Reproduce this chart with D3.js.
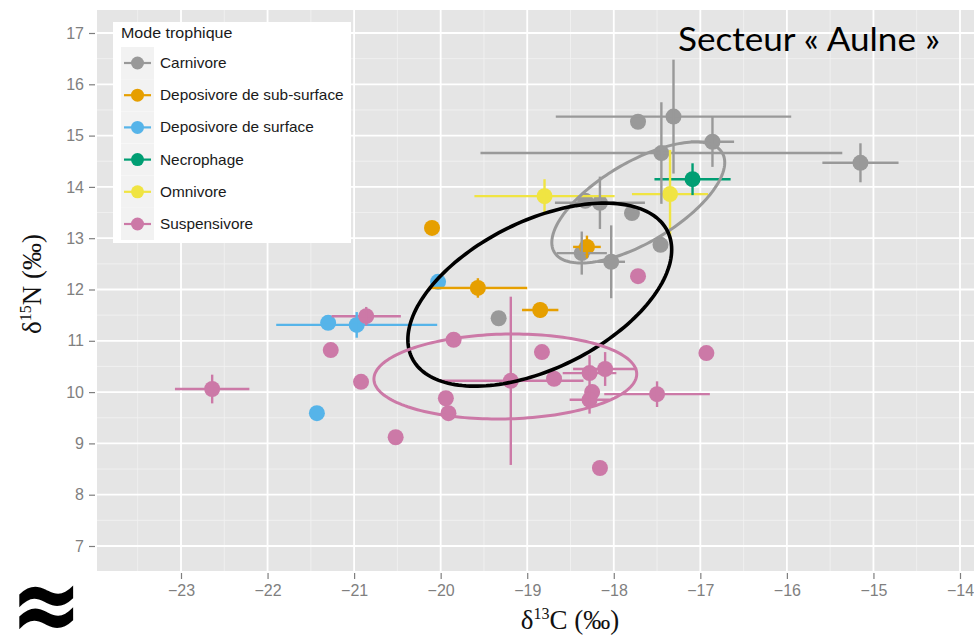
<!DOCTYPE html>
<html><head><meta charset="utf-8">
<script src="https://cdn.jsdelivr.net/npm/d3@7"></script>
<style>body{margin:0;background:#fff}svg{display:block}</style>
</head><body><svg id="c" width="974" height="635"></svg>
<script>
// ---- data ----
const groups = ["Carnivore","Deposivore de sub-surface","Deposivore de surface","Necrophage","Omnivore","Suspensivore"];
const groupColors = ["#999999","#E69F00","#56B4E9","#009E73","#F0E442","#CC79A7"];

// points: group index, δ13C, δ15N, error on δ13C, error on δ15N
const pointGroup = [0,0,0,0,0,0,0,0,0,0,0,0,
                    1,1,1,1,
                    2,2,2,2,
                    3,
                    4,4,
                    5,5,5,5,5,5,5,5,5,5,5,5,5,5,5,5,5,5,5];
const d13C = [-15.15,-17.31,-17.72,-16.86,-17.45,-18.16,-18.33,-17.79,-17.46,-18.37,-18.03,-19.33,
              -20.10,-19.57,-18.85,-18.31,
              -20.03,-21.30,-20.97,-21.43,
              -17.09,
              -18.80,-17.35,
              -22.64,-20.86,-21.27,-20.92,-20.52,-19.85,-19.94,-19.91,-19.19,-18.83,-18.69,-18.28,-18.10,-18.25,-18.28,-17.50,-16.93,-18.16,-17.72];
const d15N = [14.47,15.37,15.27,14.88,14.66,13.69,13.73,13.49,12.87,12.71,12.54,11.44,
              13.20,12.03,11.60,12.83,
              12.15,11.35,11.31,9.59,
              14.15,
              13.82,13.86,
              10.06,11.48,10.82,10.20,9.12,11.02,9.88,9.59,10.22,10.78,10.26,10.37,10.45,10.00,9.85,9.96,10.76,8.52,12.26];
const errC = [0.44,1.36,0,0.25,2.09,0.52,0,0,0,0.29,0.16,0,
              0,0.57,0.21,0.16,
              0,0,0.93,0,
              0.44,
              0.81,0.44,
              0.43,0.40,0,0,0,0,0,0,0.84,0,0,0.31,0.37,0,0.23,0.61,0,0,0];
const errN = [0.38,1.11,0,0.49,0.99,0.51,0,0,0,0.42,0.71,0,
              0,0.19,0.15,0.22,
              0,0,0.25,0,
              0.31,
              0.33,0.86,
              0.28,0.18,0,0,0,0,0,0,1.64,0,0,0.35,0.33,0,0.27,0.25,0,0,0];

// ellipses: colour, centre, and two conjugate semi-axis vectors (data units)
const ellColor = ["#999999","#000000","#CC79A7"];
const ellCx = [-17.717,-18.855,-19.253];
const ellCy = [13.696,11.90,10.304];
const ellU = [[0.999,0.780],[1.524,0.877],[1.518,0.049]];
const ellV = [[0,0.885],[0,1.554],[0,0.827]];

const xTicks = [-23,-22,-21,-20,-19,-18,-17,-16,-15,-14];
const yTicks = [7,8,9,10,11,12,13,14,15,16,17];

// ---- layout ----
const svg = d3.select("#c");
const P = {l:97, r:974, t:10, b:571};
const x = d3.scaleLinear().domain([-23,-14]).range([181,960]);
const y = d3.scaleLinear().domain([7,17]).range([546,33]);

svg.append("rect").attr("x",P.l).attr("y",P.t).attr("width",P.r-P.l).attr("height",P.b-P.t).attr("fill","#E5E5E5");

svg.append("clipPath").attr("id","pc").append("rect")
  .attr("x",P.l).attr("y",P.t).attr("width",P.r-P.l).attr("height",P.b-P.t);
const g = svg.append("g").attr("clip-path","url(#pc)");

// minor grid
const xMinor = xTicks.map(v=>v-0.5).concat([-13.5]);
const yMinor = yTicks.map(v=>v-0.5).concat([17.5]);
g.selectAll(".xm").data(xMinor).join("line").attr("x1",d=>x(d)).attr("x2",d=>x(d)).attr("y1",P.t).attr("y2",P.b).attr("stroke","#F2F2F2").attr("stroke-width",0.8);
g.selectAll(".ym").data(yMinor).join("line").attr("y1",d=>y(d)).attr("y2",d=>y(d)).attr("x1",P.l).attr("x2",P.r).attr("stroke","#F2F2F2").attr("stroke-width",0.8);
// major grid
g.selectAll(".xg").data(xTicks).join("line").attr("x1",d=>x(d)).attr("x2",d=>x(d)).attr("y1",P.t).attr("y2",P.b).attr("stroke","#fff").attr("stroke-width",1.8);
g.selectAll(".yg").data(yTicks).join("line").attr("y1",d=>y(d)).attr("y2",d=>y(d)).attr("x1",P.l).attr("x2",P.r).attr("stroke","#fff").attr("stroke-width",1.8);

// axes
const xa = svg.append("g").attr("transform",`translate(0,${P.b})`)
  .call(d3.axisBottom(x).tickValues(xTicks).tickSize(8).tickPadding(6).tickFormat(d=>String(d).replace("-","\u2212")));
const ya = svg.append("g").attr("transform",`translate(${P.l},0)`)
  .call(d3.axisLeft(y).tickValues(yTicks).tickSize(8).tickPadding(5));
[xa,ya].forEach(a=>{
  a.select(".domain").remove();
  a.selectAll("line").attr("stroke","#7F7F7F").attr("stroke-width",1.2);
  a.selectAll("text").attr("fill","#7F7F7F").attr("font-family","Liberation Sans, Arial, sans-serif").attr("font-size",16);
});
xa.selectAll("line").attr("y1",2);
ya.selectAll("line").attr("x1",-2);

// data records
const pts = d3.range(d13C.length).map(i=>({g:pointGroup[i],x:d13C[i],y:d15N[i],ex:errC[i],ey:errN[i]}));

// points
g.selectAll(".pt").data(pts).join("circle")
  .attr("cx",d=>x(d.x)).attr("cy",d=>y(d.y)).attr("r",8)
  .attr("fill",d=>groupColors[d.g]);
// error bars
g.selectAll(".ebx").data(pts.filter(d=>d.ex>0)).join("line")
  .attr("x1",d=>x(d.x-d.ex)).attr("x2",d=>x(d.x+d.ex)).attr("y1",d=>y(d.y)).attr("y2",d=>y(d.y))
  .attr("stroke",d=>groupColors[d.g]).attr("stroke-width",2.4);
g.selectAll(".eby").data(pts.filter(d=>d.ey>0)).join("line")
  .attr("x1",d=>x(d.x)).attr("x2",d=>x(d.x)).attr("y1",d=>y(d.y-d.ey)).attr("y2",d=>y(d.y+d.ey))
  .attr("stroke",d=>groupColors[d.g]).attr("stroke-width",2.4);

// ellipses
const ts = d3.range(0,2*Math.PI,Math.PI/90);
const line = d3.line().curve(d3.curveLinearClosed);
ellColor.forEach((c,i)=>{
  const ptsE = ts.map(t=>[
    x(ellCx[i]+ellU[i][0]*Math.cos(t)+ellV[i][0]*Math.sin(t)),
    y(ellCy[i]+ellU[i][1]*Math.cos(t)+ellV[i][1]*Math.sin(t))]);
  g.append("path").attr("d",line(ptsE)).attr("fill","none").attr("stroke",c).attr("stroke-width",i===1?3.6:3);
});

// legend
const L = svg.append("g");
L.append("rect").attr("x",113).attr("y",22).attr("width",238).attr("height",221).attr("fill","#fff");
L.append("text").attr("transform","translate(121,38) scale(1.07,1)").text("Mode trophique")
  .attr("font-family","Liberation Sans, Arial, sans-serif").attr("font-size",15).attr("fill","#1a1a1a");
groups.forEach((name,i)=>{
  const cy = 63 + i*32.2;
  L.append("rect").attr("x",121).attr("y",cy-16).attr("width",33).attr("height",32).attr("fill","#F2F2F2");
  L.append("line").attr("x1",124).attr("x2",151).attr("y1",cy).attr("y2",cy).attr("stroke",groupColors[i]).attr("stroke-width",2.2);
  L.append("circle").attr("cx",137.5).attr("cy",cy).attr("r",6.5).attr("fill",groupColors[i]);
  L.append("text").attr("transform",`translate(160,${cy+5}) scale(1.06,1)`).text(name)
    .attr("font-family","Liberation Sans, Arial, sans-serif").attr("font-size",14.5).attr("fill","#1a1a1a");
});

// axis titles
const xt = svg.append("text").attr("x",570).attr("y",629).attr("text-anchor","middle")
  .attr("font-family","Liberation Serif, Times New Roman, serif").attr("font-size",27).attr("fill","#111");
xt.append("tspan").text("\u03B4");
xt.append("tspan").text("13").attr("font-size",16).attr("dy",-10);
xt.append("tspan").text("C (\u2030)").attr("dy",10);
const yt = svg.append("text").attr("transform","translate(41,284) rotate(-90)").attr("text-anchor","middle")
  .attr("font-family","Liberation Serif, Times New Roman, serif").attr("font-size",27).attr("fill","#111");
yt.append("tspan").text("\u03B4");
yt.append("tspan").text("15").attr("font-size",16).attr("dy",-10);
yt.append("tspan").text("N (\u2030)").attr("dy",10);

// annotations
svg.append("text").attr("x",678).attr("y",51).text("Secteur \u00AB Aulne \u00BB")
  .attr("font-family","Lato, Open Sans, sans-serif").attr("font-size",32).attr("fill","#000")
  .attr("textLength",262).attr("lengthAdjust","spacingAndGlyphs");
svg.append("text").attr("transform","translate(46,604) scale(1,1.25)").attr("text-anchor","middle")
  .attr("dominant-baseline","central").text("\u2248")
  .attr("font-family","DejaVu Sans, sans-serif").attr("font-weight","bold").attr("font-size",86).attr("fill","#000");
</script></body></html>
